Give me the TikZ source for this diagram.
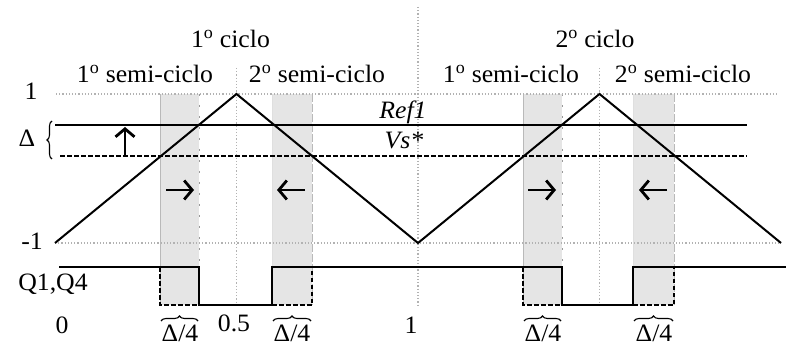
\documentclass[tikz,border=0pt]{standalone}
\usepackage{fontspec}
\setmainfont{Liberation Serif}[FakeStretch=1.03]
\usetikzlibrary{arrows.meta,decorations.pathreplacing}
\begin{document}
\begin{tikzpicture}[x=1pt,y=-1pt,
  lbl/.style={font=\fontsize{25}{27}\selectfont, inner sep=0pt, anchor=base},
  wave/.style={line width=2pt, black},
  grid/.style={line width=1.2pt, gray!60, dotted},
  shade/.style={fill=black!10, draw=none},
  edgeA/.style={line width=0.9pt, gray!55},
  edgeB/.style={line width=0.9pt, gray!80, dash pattern=on 2pt off 9pt},
  dashwave/.style={line width=2pt, black, dash pattern=on 4.5pt off 2.5pt},
  harrow/.style={line width=2.8pt, -{Straight Barb[length=8pt,width=19pt]}},
  brc/.style={decorate, decoration={brace, amplitude=5pt}, line width=1.1pt}
]
\useasboundingbox (0,0) rectangle (786,347);

% shaded regions
\foreach \a/\b in {160/199, 272/312, 523/562, 633/674}
  \fill[shade] (\a,94) rectangle (\b,305);
\foreach \a in {160,523} \draw[edgeA] (\a,94) -- (\a,305);
\foreach \a in {199,562} \draw[edgeB] (\a,94) -- (\a,305);
\foreach \a in {312,674} \draw[edgeA, dash pattern=on 8pt off 2pt] (\a,94) -- (\a,305);
\foreach \a in {272,633} \draw[edgeA, gray!25] (\a,94) -- (\a,305);

% grid
\draw[grid] (56,94) -- (779,94);
\draw[grid] (55,243) -- (781,243);
\draw[grid] (236.5,68) -- (236.5,305);
\draw[grid] (418,7) -- (418,305);
\draw[grid] (599.5,68) -- (599.5,305);

% triangle carrier
\draw[wave, line join=miter] (55,243) -- (236.5,94) -- (418,243) -- (599.5,94) -- (781,243);

% Ref1 and Vs*
\coordinate (r0) at (55,125); \coordinate (r1) at (747,125);
\coordinate (v0) at (60,156); \coordinate (v1) at (747,156);
\draw[wave] (r0) -- (r1);
\draw[dashwave] (v0) -- (v1);

% arrows
\draw[harrow] (125,156) -- (125,127);
\draw[harrow] (166,190) -- (194,190);
\draw[harrow] (305,190) -- (277,190);
\draw[harrow] (528,190) -- (556,190);
\draw[harrow] (667,190) -- (639,190);

% Q1,Q4 pulses
\draw[wave] (59,267) -- (199,267) -- (199,305) -- (272,305) -- (272,267)
  -- (562,267) -- (562,305) -- (633,305) -- (633,267) -- (786,267);
\draw[dashwave] (160,267) -- (160,305) -- (199,305);
\draw[dashwave] (272,305) -- (312,305) -- (312,267);
\draw[dashwave] (523,267) -- (523,305) -- (562,305);
\draw[dashwave] (633,305) -- (674,305) -- (674,267);

% braces
\draw[brc] (52,159) -- (52,121);
\foreach \a/\b in {161/198, 273/311, 524/561, 634/673}
  \draw[brc] (\a,321) -- (\b,321);

% labels
\node[lbl] (c1) at (230.5,48) {1\textsuperscript{o} ciclo};
\node[lbl] (c2) at (595,48) {2\textsuperscript{o} ciclo};
\node[lbl] (s1) at (145,83) {1\textsuperscript{o} semi-ciclo};
\node[lbl] (s2) at (317,83) {2\textsuperscript{o} semi-ciclo};
\node[lbl] (s3) at (511,83) {1\textsuperscript{o} semi-ciclo};
\node[lbl] (s4) at (683,83) {2\textsuperscript{o} semi-ciclo};
\node[lbl] (one) at (31,100) {1};
\node[lbl] (mone) at (32,249) {-1};
\node[lbl] (delta) at (27,147) {Δ};
\node[lbl] (ref) at (403,119) {\itshape Ref1};
\node[lbl] (vs) at (404,149) {\itshape Vs*};
\node[lbl] (q) at (53,290) {Q1,Q4};
\node[lbl] (x0) at (62,333) {0};
\node[lbl] (x05) at (234,331) {0.5};
\node[lbl] (x1) at (411,333) {1};
\foreach \c/\n in {180/d1, 292/d2, 543/d3, 654/d4}
  \node[lbl] (\n) at (\c,341) {Δ/4};
\end{tikzpicture}
\end{document}
